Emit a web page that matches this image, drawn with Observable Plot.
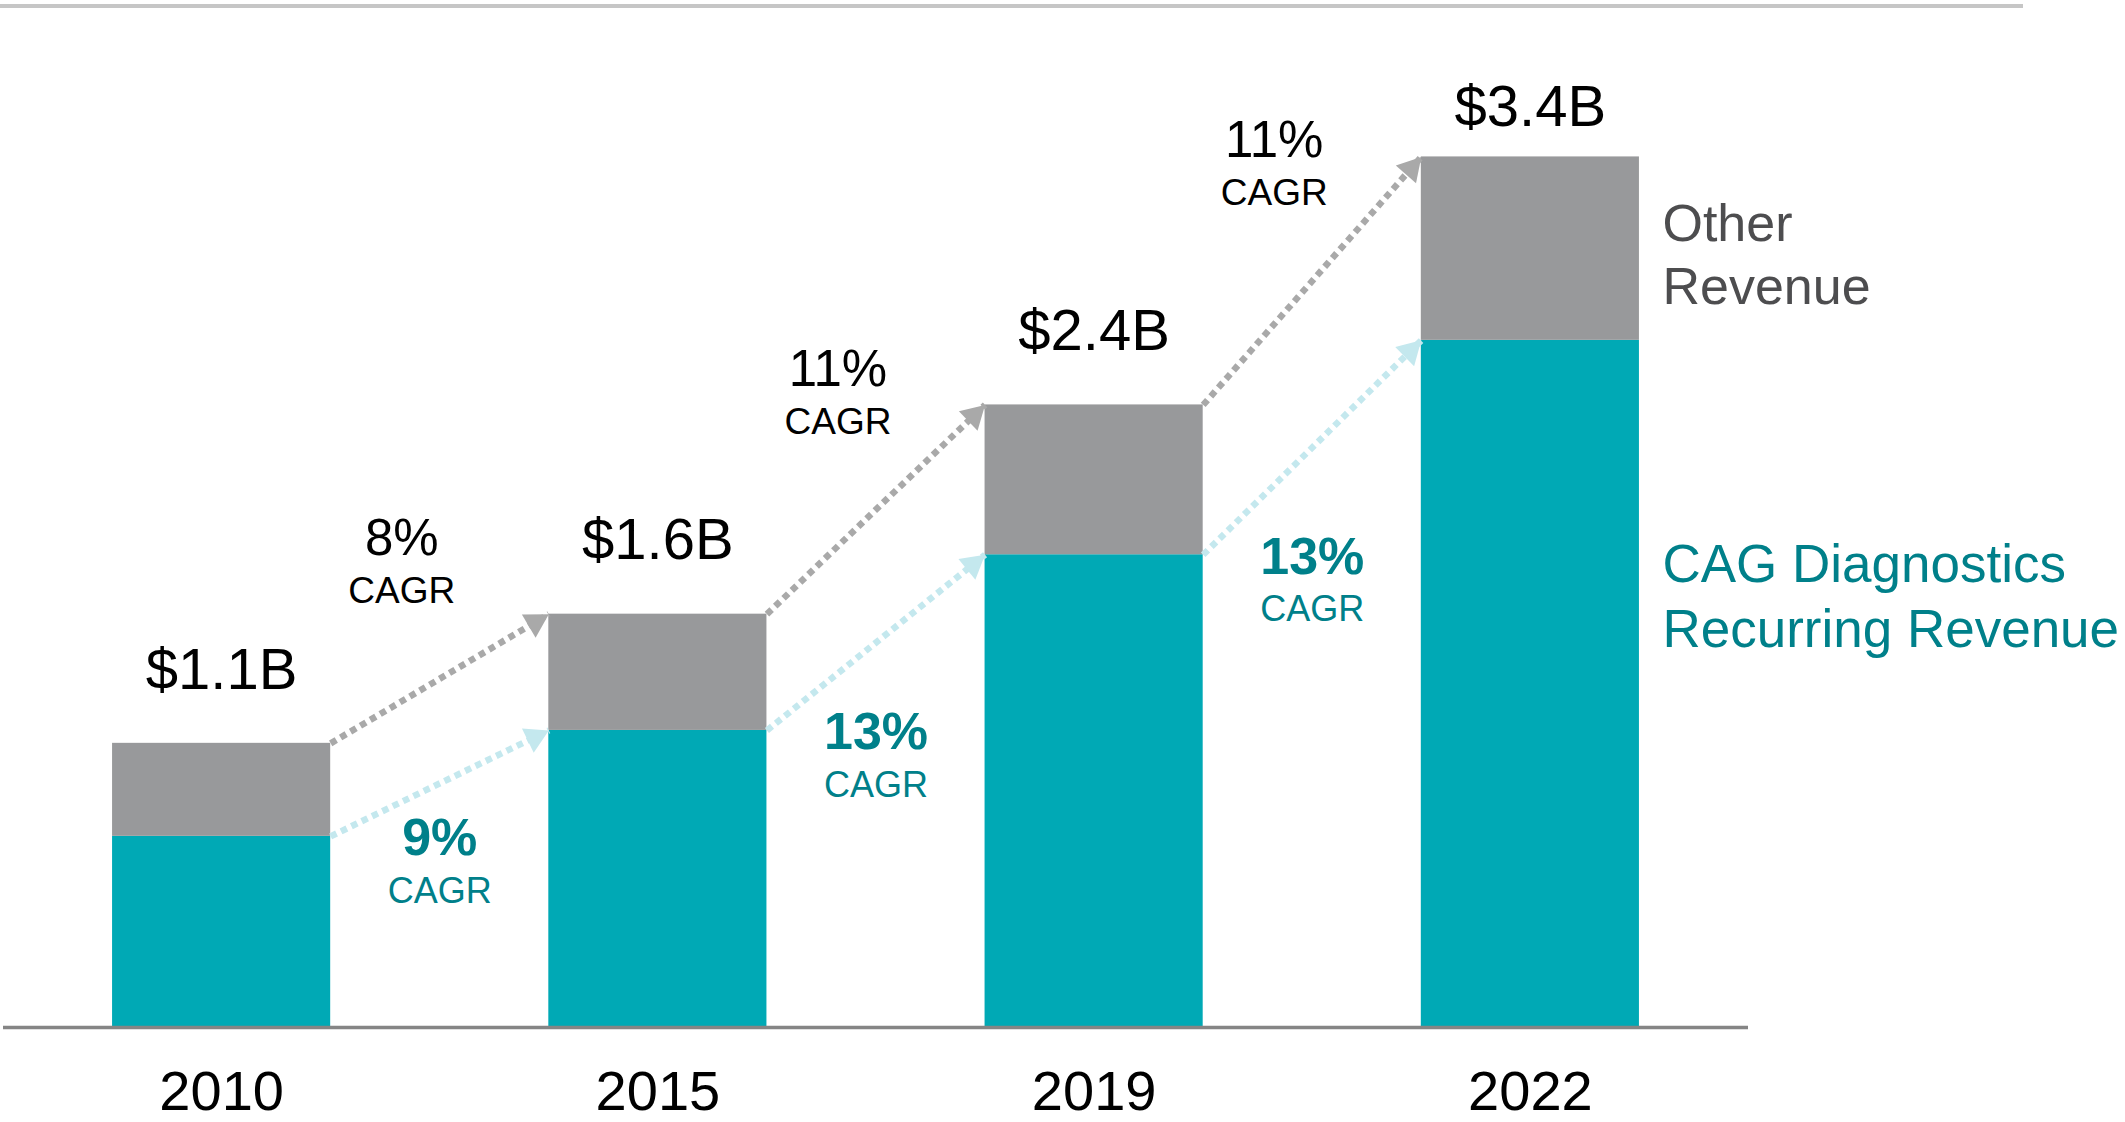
<!DOCTYPE html>
<html><head><meta charset="utf-8">
<script src="https://cdn.jsdelivr.net/npm/d3@7"></script>
<script src="https://cdn.jsdelivr.net/npm/@observablehq/plot@0.6"></script>
<style>
html,body{margin:0;padding:0;background:#fff;}
#wrap{position:relative;width:2125px;height:1122px;overflow:hidden;}
#chart{position:absolute;left:0;top:0;}
#topline{position:absolute;left:0;top:4px;width:2023px;height:4px;background:#c6c6c6;}
</style></head><body>
<div id="wrap"><div id="chart"></div><div id="topline"></div></div>
<script>
// ---- data ----
const years = ["2010", "2015", "2019", "2022"];
const recurring = [0.74, 1.15, 1.83, 2.66];   // CAG Diagnostics recurring revenue ($B)
const other = [0.36, 0.45, 0.58, 0.71];       // Other revenue ($B)
const totalLabels = ["$1.1B", "$1.6B", "$2.4B", "$3.4B"];
const totalCagr = ["8%", "11%", "11%"];
const recurringCagr = ["9%", "13%", "13%"];
const seriesNames = ["CAG Diagnostics\nRecurring Revenue", "Other\nRevenue"];

// ---- derived tables ----
const total = recurring.map((r, i) => r + other[i]);
const idx = years.map((_, i) => i);
const bars = idx.flatMap(i => [
  {i, y1: 0, y2: recurring[i], s: 0},
  {i, y1: recurring[i], y2: total[i], s: 1}
]);
const segs = idx.slice(0, -1).flatMap(k => [
  {k, kind: "total", x1: k + 0.25, x2: k + 0.75, y1: total[k], y2: total[k + 1], label: totalCagr[k]},
  {k, kind: "rec", x1: k + 0.25, x2: k + 0.75, y1: recurring[k], y2: recurring[k + 1], label: recurringCagr[k]}
]);

const TEAL = "#00a9b5", GREY = "#98999b", TEAL_TXT = "#00808a";
const ARROW_GREY = "#a9a9a9", ARROW_TEAL = "#c4e8ee";
const HEAD_R = 10;
const FONT = "'Liberation Sans', Arial, Helvetica, sans-serif";

function build(heads) {
  const last = years.length - 1;
  return Plot.plot({
    width: 2125,
    height: 1122,
    marginLeft: 3,
    marginRight: 377,
    marginTop: 4,
    marginBottom: 95,
    style: {fontFamily: FONT, fontSize: "56px", color: "#000", background: "transparent"},
    x: {domain: [-0.5, 3.5], ticks: idx, tickFormat: i => years[i], tickSize: 0, tickPadding: 43, label: null},
    y: {domain: [0, 3.96], axis: null},
    marks: [
      Plot.rect(bars, {x1: d => d.i - 0.25, x2: d => d.i + 0.25, y1: "y1", y2: "y2",
        fill: d => d.s === 0 ? TEAL : GREY}),
      Plot.ruleY([0], {stroke: "#858585", strokeWidth: 3.5}),
      Plot.link(segs, {x1: "x1", y1: "y1", x2: "x2", y2: "y2",
        stroke: d => d.kind === "total" ? ARROW_GREY : ARROW_TEAL,
        strokeWidth: 6.5, strokeDasharray: "6.5,5"}),
      Plot.dot(heads, {x: "x", y: "y", r: HEAD_R, symbol: "triangle", rotate: "rotate",
        fill: d => d.kind === "total" ? ARROW_GREY : ARROW_TEAL, stroke: "none"}),
      // total value labels
      Plot.text(idx.filter(i => i < last), {x: i => i, y: i => total[i], text: i => totalLabels[i],
        lineAnchor: "top", dy: -96, fontSize: 58, fill: "#000"}),
      Plot.text([last], {x: i => i, y: i => total[i], text: i => totalLabels[i],
        lineAnchor: "top", dy: -72, fontSize: 58, fill: "#000"}),
      // total CAGR labels (grey arrows)
      Plot.text(segs.filter(d => d.kind === "total"), {x: d => (d.x1 + d.x2) / 2, y: d => (d.y1 + d.y2) / 2,
        text: "label", lineAnchor: "top", dx: -38, dy: -160, fontSize: 51, fill: "#000"}),
      Plot.text(segs.filter(d => d.kind === "total"), {x: d => (d.x1 + d.x2) / 2, y: d => (d.y1 + d.y2) / 2,
        text: () => "CAGR", lineAnchor: "top", dx: -38, dy: -102, fontSize: 37, fill: "#000"}),
      // recurring CAGR labels (teal arrows)
      Plot.text(segs.filter(d => d.kind === "rec"), {x: d => (d.x1 + d.x2) / 2, y: "y1",
        text: "label", lineAnchor: "top", dy: -18, fontSize: 52, fontWeight: "bold", fill: TEAL_TXT}),
      Plot.text(segs.filter(d => d.kind === "rec"), {x: d => (d.x1 + d.x2) / 2, y: "y1",
        text: () => "CAGR", lineAnchor: "top", dy: 41, fontSize: 36, fill: TEAL_TXT}),
      // series labels
      Plot.text([last], {x: i => i + 0.25, y: i => (recurring[i] + total[i]) / 2, text: () => seriesNames[1],
        textAnchor: "start", lineAnchor: "top", dx: 23, dy: -52, fontSize: 52, lineHeight: 1.21, fill: "#4d4d4f"}),
      Plot.text([last], {x: i => i + 0.25, y: i => recurring[i], text: () => seriesNames[0],
        textAnchor: "start", lineAnchor: "top", dx: 23, dy: 195, fontSize: 53, lineHeight: 1.23, fill: TEAL_TXT})
    ]
  });
}

// first pass: read the scales to orient the arrowheads
const probe = build([]);
const sx = probe.scale("x"), sy = probe.scale("y");
const heads = segs.map(d => {
  const px1 = sx.apply(d.x1), py1 = sy.apply(d.y1), px2 = sx.apply(d.x2), py2 = sy.apply(d.y2);
  const len = Math.hypot(px2 - px1, py2 - py1);
  const t = 1 - (1.555 * HEAD_R) / len;
  return {
    kind: d.kind,
    x: d.x1 + t * (d.x2 - d.x1),
    y: d.y1 + t * (d.y2 - d.y1),
    rotate: Math.atan2(py2 - py1, px2 - px1) * 180 / Math.PI + 90
  };
});
document.getElementById("chart").append(build(heads));
</script>
</body></html>
